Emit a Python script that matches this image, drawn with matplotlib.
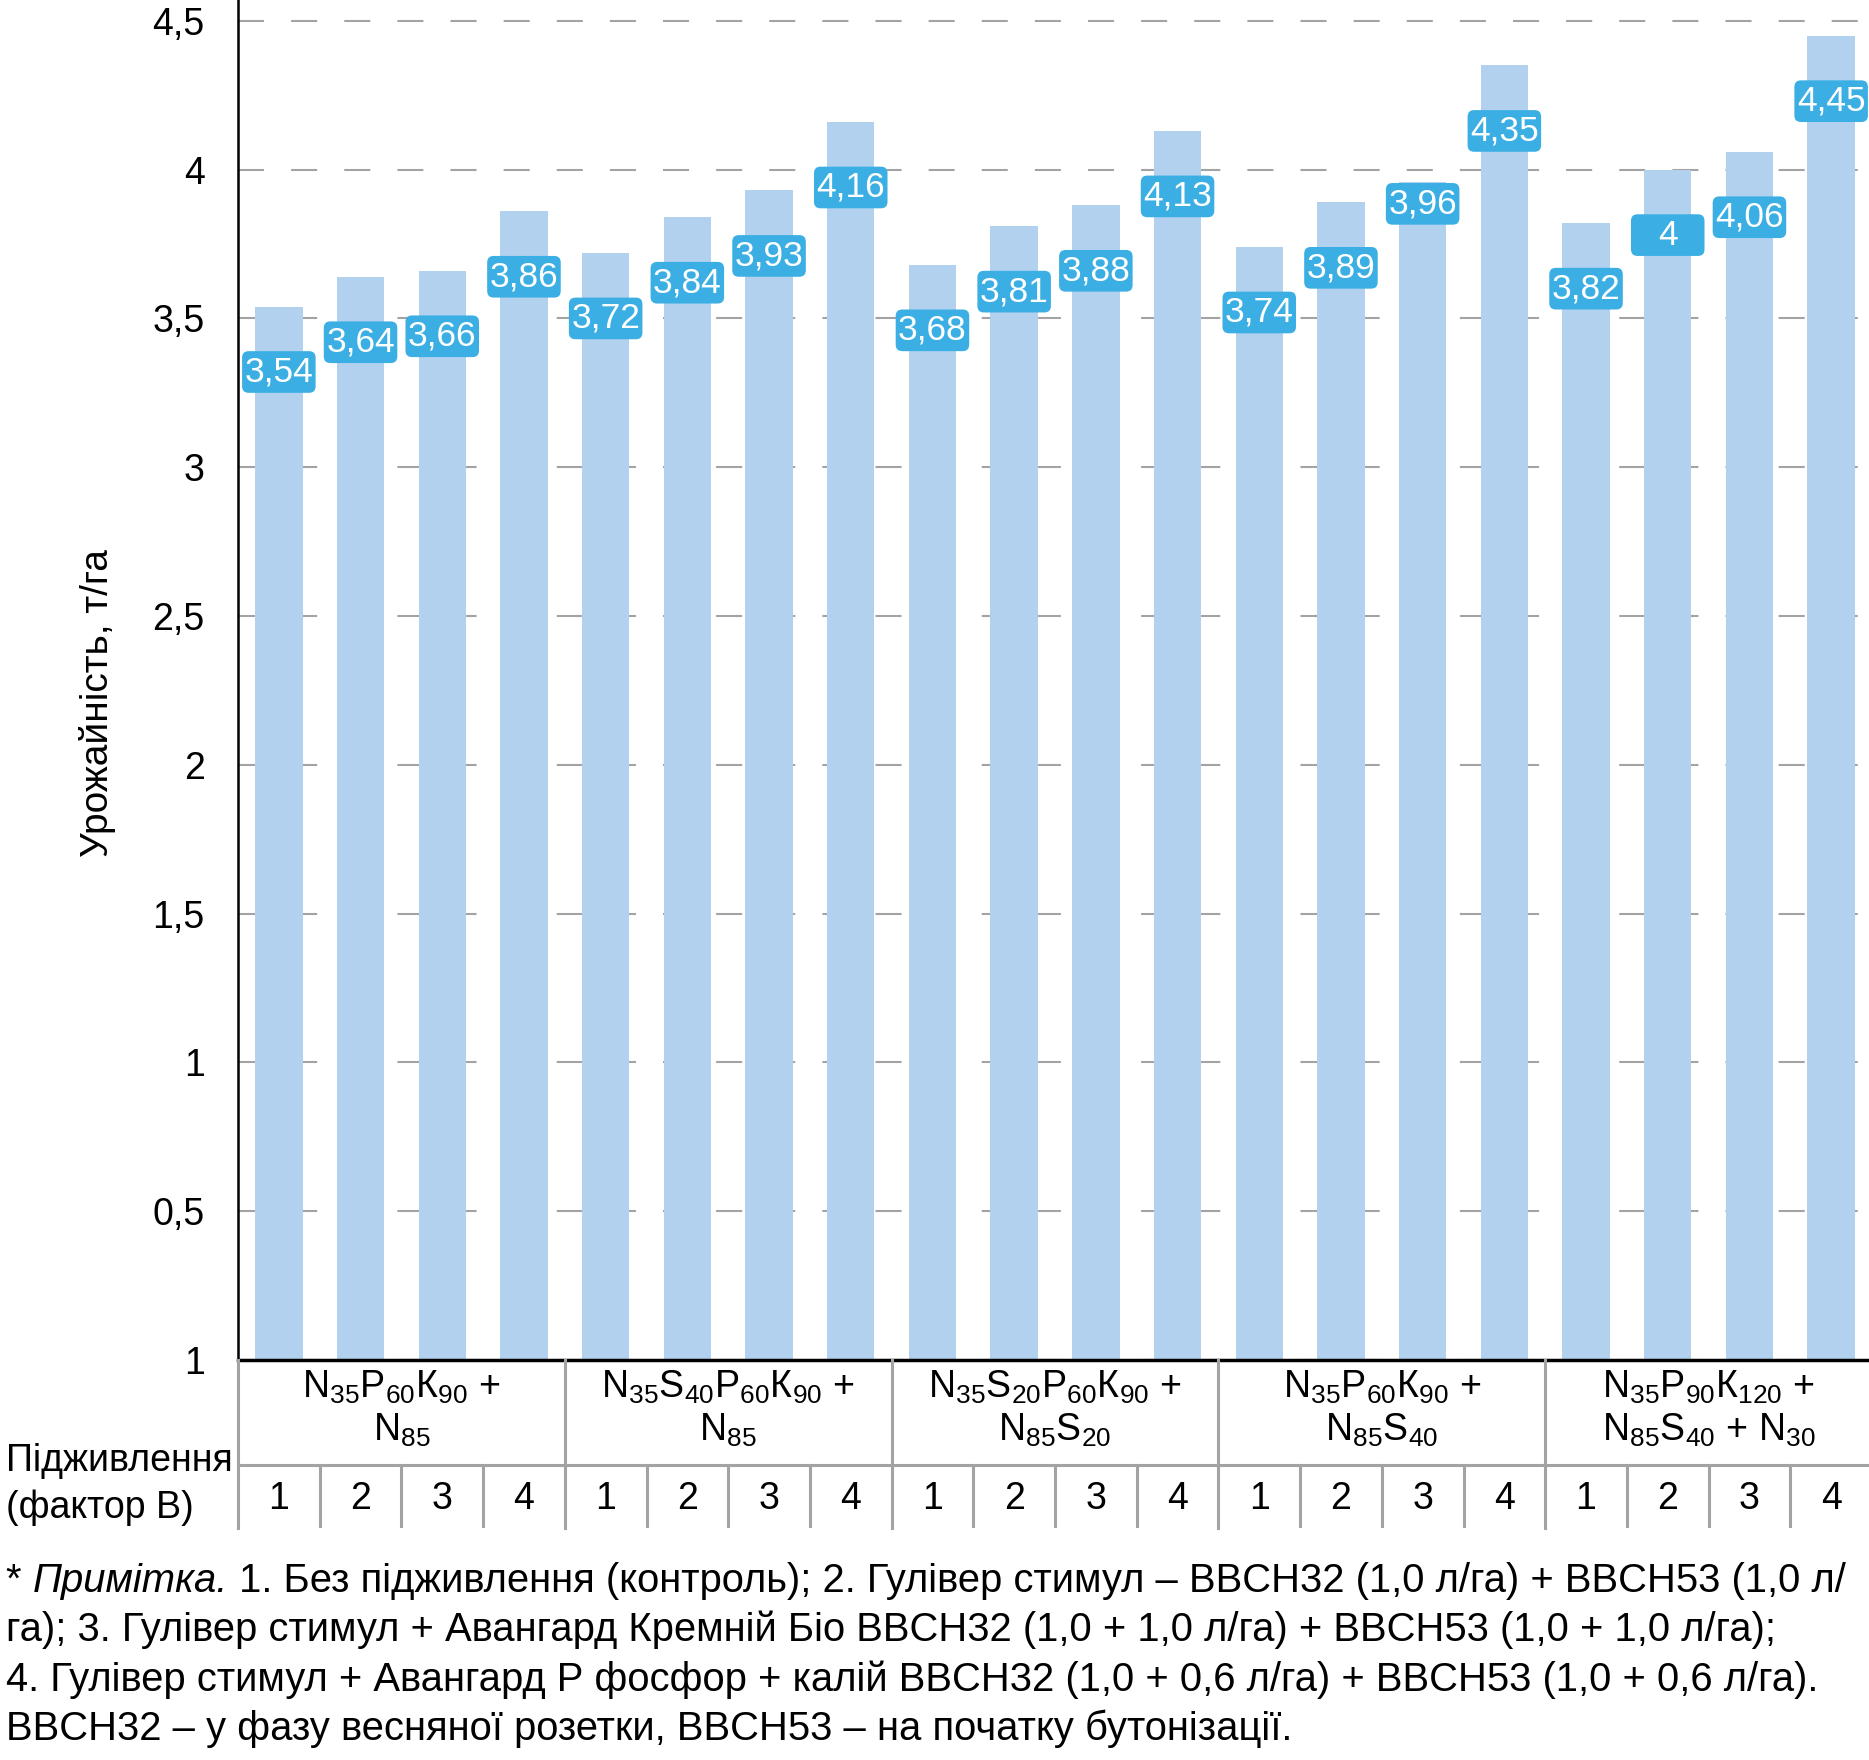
import numpy as np
import matplotlib
matplotlib.use("Agg")
import matplotlib.pyplot as plt
from matplotlib.patches import FancyBboxPatch

plt.rcParams["font.family"] = ["Liberation Sans", "DejaVu Sans"]
plt.rcParams["mathtext.fontset"] = "custom"
plt.rcParams["mathtext.rm"] = "Liberation Sans"

# yields, t/ha (5 groups x 4 treatments)
values = [3.54, 3.64, 3.66, 3.86,
          3.72, 3.84, 3.93, 4.16,
          3.68, 3.81, 3.88, 4.13,
          3.74, 3.89, 3.96, 4.35,
          3.82, 4.00, 4.06, 4.45]
value_labels = ["3,54", "3,64", "3,66", "3,86",
                "3,72", "3,84", "3,93", "4,16",
                "3,68", "3,81", "3,88", "4,13",
                "3,74", "3,89", "3,96", "4,35",
                "3,82", "4", "4,06", "4,45"]
treatments = ["1", "2", "3", "4"]
group_line1 = [r"$\mathregular{N_{35}P_{60}К_{90}}$ +",
               r"$\mathregular{N_{35}S_{40}P_{60}К_{90}}$ +",
               r"$\mathregular{N_{35}S_{20}P_{60}К_{90}}$ +",
               r"$\mathregular{N_{35}P_{60}К_{90}}$ +",
               r"$\mathregular{N_{35}P_{90}К_{120}}$ +"]
group_line2 = [r"$\mathregular{N_{85}}$",
               r"$\mathregular{N_{85}}$",
               r"$\mathregular{N_{85}S_{20}}$",
               r"$\mathregular{N_{85}S_{40}}$",
               r"$\mathregular{N_{85}S_{40}}$ + $\mathregular{N_{30}}$"]
yticks = [0, 0.5, 1, 1.5, 2, 2.5, 3, 3.5, 4, 4.5]
ytick_labels = ["1", "0,5", "1", "1,5", "2", "2,5", "3", "3,5", "4", "4,5"]
note_first = " 1. Без підживлення (контроль); 2. Гулівер стимул – BBCH32 (1,0 л/га) + BBCH53 (1,0 л/"
note_lines = [
    "га); 3. Гулівер стимул + Авангард Кремній Біо BBCH32 (1,0 + 1,0 л/га) + BBCH53 (1,0 + 1,0 л/га);",
    "4. Гулівер стимул + Авангард Р фосфор + калій BBCH32 (1,0 + 0,6 л/га) + BBCH53 (1,0 + 0,6 л/га).",
    "BBCH32 – у фазу весняної розетки, BBCH53 – на початку бутонізації.",
]

bar_color = "#B2D1EF"
box_color = "#3BAFE3"
grid_color = "#A3A3A3"

W, H = 1869, 1760
fig = plt.figure(figsize=(W / 100, H / 100), dpi=100)

x0 = 238 / W
ax = fig.add_axes([x0, 1 - 1360 / H, 1872 / W - x0, 1360 / H])
x = np.arange(len(values))
ax.bar(x, values, width=0.58, color=bar_color, zorder=2)
ax.set_xlim(-0.5, len(values) - 0.5)
ax.set_ylim(0, 4.57)
ax.set_yticks(yticks)
ax.set_yticklabels(ytick_labels, fontsize=27)
ax.tick_params(axis="y", length=0, pad=24)
ax.set_xticks([])
ax.grid(axis="y", color=grid_color, linewidth=1.5, linestyle=(0, (12.5, 13)))
ax.set_axisbelow(True)
for s in ["top", "right"]:
    ax.spines[s].set_visible(False)
ax.spines["left"].set_linewidth(1.8)
ax.spines["bottom"].set_linewidth(2.5)

# value labels in rounded boxes; one label sits higher in the original
bw, bh = 0.9, 0.14
asp = (1360 / 4.57) / (1872 - 238) * 20
for i, (v, lab) in enumerate(zip(values, value_labels)):
    yc = v - 0.22
    if i == 14:
        yc = v - 0.075
    box = FancyBboxPatch((i - bw / 2, yc - bh / 2), bw, bh,
                         boxstyle="round,pad=0,rounding_size=0.08",
                         mutation_aspect=1 / asp,
                         facecolor=box_color, edgecolor="none", zorder=3)
    ax.add_patch(box)
    ax.text(i, yc, lab, ha="center", va="center", color="white",
            fontsize=25.5, zorder=4)

# category table under the axis
tab = fig.add_axes([x0, 1 - 1528 / H, 1872 / W - x0, 168 / H])
tab.set_xlim(-0.5, len(values) - 0.5)
tab.set_ylim(0, 1)
tab.axis("off")
hy = 1 - 105 / 168
tab.plot([-0.5, len(values) - 0.5], [hy, hy], color=grid_color, lw=2.2)
for g in range(len(group_line1) + 1):
    xb = g * 4 - 0.5
    tab.plot([xb, xb], [0, 1], color=grid_color, lw=2.2, clip_on=False)
for i in range(len(values)):
    if i % 4:
        tab.plot([i - 0.5, i - 0.5], [0, hy], color=grid_color, lw=2.2)
    tab.text(i, 0.17, treatments[i % 4], ha="center", va="center", fontsize=27)
for g in range(len(group_line1)):
    xc = g * 4 + 1.5
    tab.text(xc, 0.84, group_line1[g], ha="center", va="center", fontsize=27)
    tab.text(xc, 0.58, group_line2[g], ha="center", va="center", fontsize=27)

fig.text(6 / W, 1 - 1461 / H, "Підживлення", ha="left", va="center", fontsize=27)
fig.text(6 / W, 1 - 1508 / H, "(фактор B)", ha="left", va="center", fontsize=27)

fig.text(97 / W, 1 - 703 / H, "Урожайність, т/га", rotation=90,
         ha="center", va="center", fontsize=28)

# footnote: "Примітка." in italics, chained after "* "
fs = 28.8
ly = [1581, 1630, 1680, 1729]
t1 = fig.text(6 / W, 1 - ly[0] / H, "* ", ha="left", va="center", fontsize=fs)
t2 = ax.annotate("Примітка.", xy=(1, 0), xycoords=t1, ha="left", va="bottom",
                 fontsize=fs, style="italic", annotation_clip=False)
ax.annotate(note_first, xy=(1, 0), xycoords=t2, ha="left", va="bottom",
            fontsize=fs, annotation_clip=False)
for yy, line in zip(ly[1:], note_lines):
    fig.text(6 / W, 1 - yy / H, line, ha="left", va="center", fontsize=fs)

fig.savefig("out.png", dpi=100)
